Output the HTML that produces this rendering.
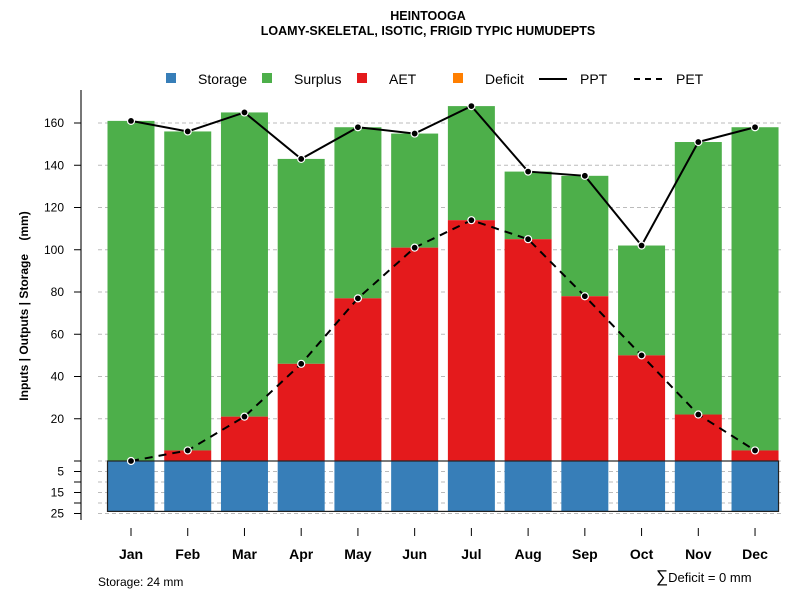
<!DOCTYPE html>
<html><head><meta charset="utf-8"><style>
body{margin:0;background:#fff;}
svg{display:block;font-family:"Liberation Sans",Arial,sans-serif;}
</style></head><body>
<svg id="chart" width="800" height="600">
<text x="428" y="20" text-anchor="middle" font-size="12.5" font-weight="bold">HEINTOOGA</text>
<text x="428" y="35" text-anchor="middle" font-size="12.5" font-weight="bold">LOAMY-SKELETAL, ISOTIC, FRIGID TYPIC HUMUDEPTS</text>
<g font-size="14">
<rect x="166" y="73" width="10" height="10" fill="#377eb8"/>
<text x="198" y="84">Storage</text>
<rect x="262" y="73" width="10" height="10" fill="#4daf4a"/>
<text x="294" y="84">Surplus</text>
<rect x="357" y="73" width="10" height="10" fill="#e41a1c"/>
<text x="389" y="84">AET</text>
<rect x="453" y="73" width="10" height="10" fill="#ff7f00"/>
<text x="485" y="84">Deficit</text>
<line x1="539" y1="79" x2="567" y2="79" stroke="#000" stroke-width="2"/>
<text x="580" y="84">PPT</text>
<line x1="634" y1="79" x2="662" y2="79" stroke="#000" stroke-width="2" stroke-dasharray="6,5"/>
<text x="676" y="84">PET</text>
</g>
<text transform="translate(28,306) rotate(-90)" text-anchor="middle" font-size="12" font-weight="bold" style="white-space:pre">Inputs | Outputs | Storage    (mm)</text>
<text x="98" y="586" font-size="12">Storage: 24 mm</text>
<text x="656" y="582" font-size="13"><tspan font-size="17">∑</tspan>Deficit = 0 mm</text>
</svg>
<script>
const months=["Jan","Feb","Mar","Apr","May","Jun","Jul","Aug","Sep","Oct","Nov","Dec"];
const ppt=[161,156,165,143,158,155,168,137,135,102,151,158];
const pet=[0,5,21,46,77,101,114,105,78,50,22,5];
const aet=[0,5,21,46,77,101,114,105,78,50,22,5];
const storage=[24,24,24,24,24,24,24,24,24,24,24,24];
const yTicks=[20,40,60,80,100,120,140,160];
const sTicks=[5,15,25];
const sMinor=[0,10,20];
const NS="http://www.w3.org/2000/svg";
const svg=document.getElementById('chart');
const y=v=>461-v*2.1125;
const ys=s=>461+s*2.1;
const x=i=>131+i*56.73;
const hw=23.5;
function mk(t,a){const e=document.createElementNS(NS,t);for(const k in a)e.setAttribute(k,a[k]);svg.appendChild(e);return e;}
yTicks.forEach(v=>{const e=mk('line',{x1:98,x2:784,y1:y(v),y2:y(v),stroke:'#bbb','stroke-dasharray':'4,3'});

});
sTicks.concat(sMinor).forEach(s=>{const e=mk('line',{x1:98,x2:784,y1:ys(s),y2:ys(s),stroke:'#bbb','stroke-dasharray':'4,3'});

});
let ax=mk('line',{x1:81,x2:81,y1:90,y2:520,stroke:'#777','stroke-width':2});


yTicks.forEach(v=>{mk('line',{x1:74,x2:81,y1:y(v),y2:y(v),stroke:'#000'});
const t=mk('text',{x:64,y:y(v)+4,'text-anchor':'end','font-size':12});t.textContent=v;

});
sTicks.concat(sMinor).forEach(s=>mk('line',{x1:74,x2:81,y1:ys(s),y2:ys(s),stroke:'#000'}));
sTicks.forEach(s=>{const t=mk('text',{x:64,y:ys(s)+4,'text-anchor':'end','font-size':12});t.textContent=s;

});
months.forEach((m,i)=>{
const g=mk('rect',{x:x(i)-hw,width:hw*2,y:y(ppt[i]),height:y(aet[i])-y(ppt[i]),fill:'#4daf4a'});


const r=mk('rect',{x:x(i)-hw,width:hw*2,y:y(aet[i]),height:y(0)-y(aet[i]),fill:'#e41a1c'});


const b=mk('rect',{x:x(i)-hw,width:hw*2,y:461,height:ys(storage[i])-461,fill:'#377eb8'});


mk('line',{x1:x(i),x2:x(i),y1:528,y2:536,stroke:'#000'});
const t=mk('text',{x:x(i),y:559,'text-anchor':'middle','font-size':14,'font-weight':'bold'});t.textContent=m;


});
const ob=mk('rect',{x:x(0)-hw,y:461,width:x(11)-x(0)+2*hw,height:ys(storage[0])-461,fill:'none',stroke:'#222','stroke-width':1.2});


const pl=mk('polyline',{points:ppt.map((v,i)=>x(i)+','+y(v)).join(' '),fill:'none',stroke:'#000','stroke-width':2});


const el=mk('polyline',{points:pet.map((v,i)=>x(i)+','+y(v)).join(' '),fill:'none',stroke:'#000','stroke-width':2,'stroke-dasharray':'8,6'});


ppt.forEach((v,i)=>{const c=mk('circle',{cx:x(i),cy:y(v),r:3.5,fill:'#000',stroke:'#fff','stroke-width':1.2});

});
pet.forEach((v,i)=>{const c=mk('circle',{cx:x(i),cy:y(v),r:3.5,fill:'#000',stroke:'#fff','stroke-width':1.2});

});
</script>
</body></html>
